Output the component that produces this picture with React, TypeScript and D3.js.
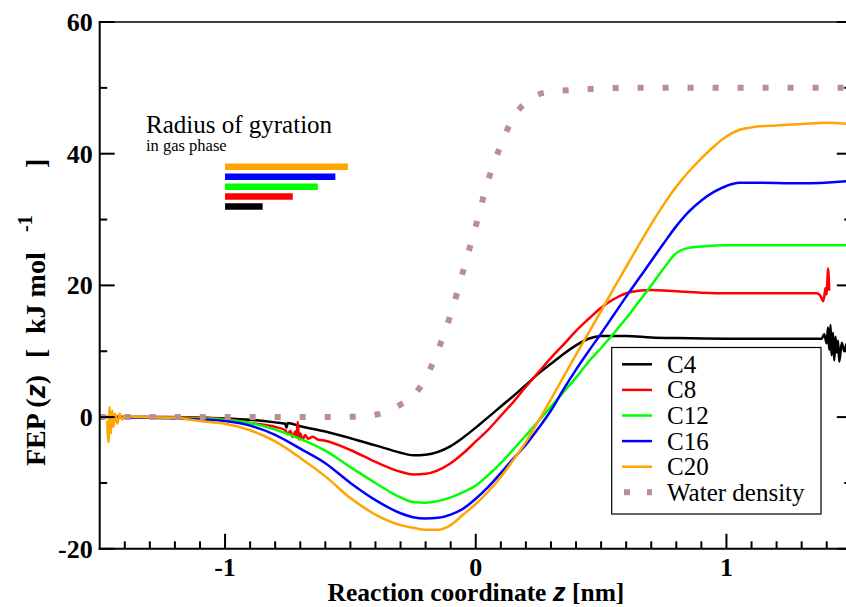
import React from "react";
import * as d3 from "d3";

const seriesNames = ["C4", "C8", "C12", "C16", "C20"];
const seriesColors = ["#000000", "#ff0000", "#00ff00", "#0000ff", "#ffa500"];
const waterColor = "#bc8f8f";

const c4: [number, number][] = [
  [-1.5, 0], [-1.3, 0], [-1.1, -0.1], [-1.0, -0.2], [-0.9, -0.4], [-0.8, -0.8], [-0.76, -1.0], [-0.755, -1.6], [-0.75, -0.9], [-0.7, -1.4],
  [-0.6, -2.2], [-0.5, -3.2], [-0.4, -4.3], [-0.3, -5.4], [-0.25, -5.8], [-0.2, -5.7],
  [-0.1, -4.4], [-0.05, -3.1], [0, -1.6], [0.05, 0.0], [0.1, 1.6], [0.15, 3.2], [0.2, 4.9],
  [0.25, 6.6], [0.3, 8.1], [0.35, 9.6], [0.4, 10.9], [0.45, 11.9], [0.5, 12.3], [0.6, 12.3],
  [0.7, 12.1], [0.8, 12.0], [1.0, 11.9], [1.2, 11.9], [1.38, 11.9], [1.39, 12.6], [1.4, 11.2],
  [1.405, 13.6], [1.41, 10.2], [1.415, 14.0], [1.42, 9.4], [1.425, 12.8], [1.43, 8.6],
  [1.435, 12.2], [1.44, 9.8], [1.445, 11.6], [1.45, 8.4], [1.46, 11.3], [1.47, 10.0], [1.48, 11.2], [1.5, 10.6],
];
const c8: [number, number][] = [
  [-1.45, 0], [-1.2, 0], [-1.0, -0.3], [-0.9, -0.9], [-0.8, -1.5], [-0.76, -2.0], [-0.75, -2.6],
  [-0.74, -2.1], [-0.73, -3.0], [-0.72, -2.2], [-0.715, -3.1], [-0.71, -0.7], [-0.705, -3.4],
  [-0.7, -2.5], [-0.69, -3.4], [-0.68, -2.7], [-0.67, -3.3], [-0.65, -3.0], [-0.63, -3.4],
  [-0.6, -3.6], [-0.5, -5.0], [-0.4, -6.8], [-0.3, -8.3], [-0.25, -8.7], [-0.2, -8.6],
  [-0.1, -7.0], [-0.05, -5.5], [0, -3.7], [0.05, -1.9], [0.1, 0.2], [0.15, 2.3], [0.2, 4.6],
  [0.25, 6.8], [0.3, 9.0], [0.35, 11.0], [0.4, 13.1], [0.45, 14.9], [0.5, 16.6], [0.55, 17.9],
  [0.6, 18.8], [0.65, 19.2], [0.7, 19.3], [0.8, 19.1], [0.9, 18.9], [1.0, 18.8], [1.2, 18.8],
  [1.36, 18.8], [1.375, 18.4], [1.385, 17.6], [1.39, 18.3], [1.395, 19.6], [1.4, 18.6],
  [1.405, 22.6], [1.41, 19.2],
];
const c12: [number, number][] = [
  [-1.45, 0], [-1.3, -0.05], [-1.1, -0.2], [-1.0, -0.4], [-0.9, -0.9], [-0.8, -1.9], [-0.7, -3.3],
  [-0.6, -5.1], [-0.5, -7.6], [-0.4, -10.0], [-0.3, -12.2], [-0.25, -12.9], [-0.2, -13.0],
  [-0.1, -12.2], [-0.05, -11.4], [0, -10.4], [0.05, -8.8], [0.1, -7.0], [0.15, -4.9],
  [0.2, -2.8], [0.25, -0.6], [0.3, 1.6], [0.35, 3.8], [0.4, 6.0], [0.45, 8.4], [0.5, 10.5],
  [0.55, 12.7], [0.6, 15.0], [0.65, 17.5], [0.7, 20.0], [0.75, 22.6], [0.8, 24.9], [0.85, 25.7],
  [0.9, 25.9], [1.0, 26.1], [1.2, 26.1], [1.5, 26.1],
];
const c16: [number, number][] = [
  [-1.45, 0], [-1.3, -0.1], [-1.1, -0.35], [-1.0, -0.6], [-0.9, -1.3], [-0.8, -2.7], [-0.7, -4.8],
  [-0.6, -7.0], [-0.5, -10.0], [-0.4, -12.6], [-0.3, -14.6], [-0.25, -15.2], [-0.2, -15.4],
  [-0.15, -15.3], [-0.1, -14.8], [-0.05, -13.9], [0, -12.4], [0.05, -10.6], [0.1, -8.5],
  [0.15, -6.3], [0.2, -4.2], [0.25, -1.7], [0.3, 1.0], [0.35, 4.2], [0.4, 7.2], [0.45, 10.0],
  [0.5, 12.7], [0.55, 15.5], [0.6, 18.3], [0.65, 21.0], [0.7, 23.7], [0.75, 26.4], [0.8, 29.0],
  [0.85, 31.2], [0.9, 32.9], [0.95, 34.2], [1.0, 35.1], [1.05, 35.6], [1.1, 35.6], [1.3, 35.5], [1.5, 35.9],
];
const c20: [number, number][] = [
  [-1.47, -0.5], [-1.465, -3.8], [-1.46, 1.5], [-1.455, -2.5], [-1.45, 1.0], [-1.445, -1.5],
  [-1.44, 0.5], [-1.43, -1.0], [-1.42, 0.5], [-1.41, -0.4], [-1.4, 0.2], [-1.35, 0], [-1.2, -0.1],
  [-1.1, -0.6], [-1.0, -1.0], [-0.9, -2.0], [-0.8, -3.7], [-0.7, -6.2], [-0.6, -9.0], [-0.5, -12.3],
  [-0.4, -14.8], [-0.3, -16.4], [-0.25, -16.8], [-0.2, -17.1], [-0.15, -17.1], [-0.1, -16.4],
  [-0.05, -14.8], [0, -13.2], [0.05, -11.3], [0.1, -9.1], [0.15, -6.5], [0.2, -3.8], [0.25, -0.6],
  [0.3, 2.7], [0.35, 6.1], [0.4, 9.5], [0.45, 12.8], [0.5, 16.1], [0.55, 19.5], [0.6, 22.8],
  [0.65, 26.1], [0.7, 29.3], [0.75, 32.3], [0.8, 35.0], [0.85, 37.3], [0.9, 39.3], [0.95, 41.1],
  [1.0, 42.6], [1.05, 43.6], [1.1, 44.0], [1.2, 44.3], [1.3, 44.5], [1.4, 44.7], [1.5, 44.5],
];
const waterDensity: [number, number][] = [
  [-1.5, 0], [-0.6, 0], [-0.45, 0.1], [-0.4, 0.35], [-0.35, 0.9], [-0.3, 1.9], [-0.25, 3.2],
  [-0.2, 5.9], [-0.15, 10.2], [-0.1, 15.6], [-0.05, 22.2], [0, 29.0], [0.05, 36.0], [0.1, 41.3],
  [0.15, 45.5], [0.2, 47.8], [0.25, 49.0], [0.3, 49.4], [0.4, 49.7], [0.5, 49.9], [0.6, 50], [1.5, 50],
];
const seriesData = [c4, c8, c12, c16, c20];

// radius of gyration in gas phase (nm), bars drawn from z = -1
const gyrationRadius = [0.15, 0.27, 0.37, 0.44, 0.49];
const gyrationLevel = [32, 33.5, 35, 36.5, 38];

const yMajorTicks = [-20, 0, 20, 40, 60];
const yMinorTicks = [-10, 10, 30, 50];
const xMajorTicks = [-1, 0, 1];
const xMinorTicks = d3.range(-14, 15).map((d) => d / 10).filter((d) => Math.abs(d - Math.round(d)) > 1e-6);

const W = 846;
const H = 607;
const serif = "Liberation Serif";
const sans = "Liberation Sans";

export default function App() {
  const x = d3.scaleLinear().domain([-1.5, 1.5]).range([99.7, 851.8]);
  const y = d3.scaleLinear().domain([-20, 60]).range([548.8, 22]);
  const line = d3
    .line<[number, number]>()
    .x((d) => x(d[0]))
    .y((d) => y(d[1]))
    .curve(d3.curveMonotoneX);

  const x0 = x(-1.5);
  const x1 = x(1.5);
  const yTop = y(60);
  const yBot = y(-20);

  const legendX = 611.7;
  const legendY = 347.5;
  const legendRowY = (i: number) => 364.3 + i * 25.6;
  const legendLabels = [...seriesNames, "Water density"];

  const serifStyle: React.CSSProperties = { fontFamily: serif };
  const boldSerif: React.CSSProperties = { fontFamily: serif, fontWeight: "bold" };
  const zStyle: React.CSSProperties = { fontFamily: sans, fontStyle: "italic", fontWeight: "bold" };

  return (
    <svg
      width={W}
      height={H}
      style={{ position: "absolute", left: 0, top: 0, background: "#fff" }}
    >
      <defs>
        <clipPath id="plotClip">
          <rect x={x0} y={yTop} width={x1 - x0} height={yBot - yTop} />
        </clipPath>
      </defs>
      <rect x={0} y={0} width={W} height={H} fill="#fff" />

      {/* curves */}
      <g clipPath="url(#plotClip)" fill="none">
        {seriesData.map((data, i) => (
          <path key={seriesNames[i]} d={line(data) || ""} stroke={seriesColors[i]} strokeWidth={2.5} strokeLinejoin="round" />
        ))}
        <path d={line(waterDensity) || ""} stroke={waterColor} strokeWidth={6} strokeDasharray="6 19" />
      </g>

      {/* radius of gyration bars */}
      {gyrationRadius.map((r, i) => (
        <line
          key={"rg" + i}
          x1={x(-1)}
          x2={x(-1 + r)}
          y1={y(gyrationLevel[i])}
          y2={y(gyrationLevel[i])}
          stroke={seriesColors[i]}
          strokeWidth={6.5}
        />
      ))}
      <text x={146} y={132.5} fontSize={25} fill="#000" style={serifStyle}>
        Radius of gyration
      </text>
      <text x={146} y={151} fontSize={16.5} fill="#000" style={serifStyle}>
        in gas phase
      </text>

      {/* frame */}
      <line x1={x0} x2={x1} y1={yTop} y2={yTop} stroke="#000" strokeWidth={1.5} />
      <line x1={x0} x2={x0} y1={yTop - 1} y2={yBot + 1} stroke="#000" strokeWidth={2} />
      <line x1={x0 - 1} x2={x1} y1={yBot} y2={yBot} stroke="#000" strokeWidth={2} />
      <line x1={x1} x2={x1} y1={yTop} y2={yBot} stroke="#000" strokeWidth={2} />

      {/* y ticks */}
      {yMajorTicks.map((t) => (
        <g key={"ym" + t}>
          <line x1={x0} x2={x0 + 15} y1={y(t)} y2={y(t)} stroke="#000" strokeWidth={2} />
          <line x1={x1 - 15} x2={x1} y1={y(t)} y2={y(t)} stroke="#000" strokeWidth={2} />
          <text x={x0 - 7} y={y(t) + 9} textAnchor="end" fontSize={26} style={boldSerif}>
            {t}
          </text>
        </g>
      ))}
      {yMinorTicks.map((t) => (
        <g key={"yn" + t}>
          <line x1={x0} x2={x0 + 7.5} y1={y(t)} y2={y(t)} stroke="#000" strokeWidth={2} />
          <line x1={x1 - 7.5} x2={x1} y1={y(t)} y2={y(t)} stroke="#000" strokeWidth={2} />
        </g>
      ))}

      {/* x ticks */}
      {xMajorTicks.map((t) => (
        <g key={"xm" + t}>
          <line x1={x(t)} x2={x(t)} y1={yBot} y2={yBot - 15} stroke="#000" strokeWidth={2} />
          <text x={x(t)} y={yBot + 27} textAnchor="middle" fontSize={26} style={boldSerif}>
            {t}
          </text>
        </g>
      ))}
      {xMinorTicks.map((t) => (
        <line key={"xn" + t} x1={x(t)} x2={x(t)} y1={yBot} y2={yBot - 7.5} stroke="#000" strokeWidth={2} />
      ))}

      {/* axis titles */}
      <text x={476} y={601} textAnchor="middle" fontSize={25.5} style={{ ...boldSerif, whiteSpace: "pre" }}>
        {"Reaction coordinate "}
        <tspan style={zStyle}>z</tspan>
        {" [nm]"}
      </text>
      <text transform="translate(45, 0) rotate(-90)" fontSize={28} style={{ ...boldSerif, whiteSpace: "pre" }}>
        <tspan x={-466}>{"FEP ("}</tspan>
        <tspan style={zStyle}>z</tspan>
        <tspan>{")"}</tspan>
        <tspan x={-358}>{"["}</tspan>
        <tspan x={-334}>{"kJ mol"}</tspan>
        <tspan x={-232} dy={-13} fontSize={20}>{"-1"}</tspan>
        <tspan x={-168} dy={13}>{"]"}</tspan>
      </text>

      {/* legend */}
      <rect x={legendX} y={legendY} width={209.3} height={166.5} fill="#fff" stroke="#000" strokeWidth={1.2} />
      {legendLabels.map((lab, i) => (
        <g key={"lg" + lab}>
          {i < 5 ? (
            <line x1={622} x2={652} y1={legendRowY(i)} y2={legendRowY(i)} stroke={seriesColors[i]} strokeWidth={2.5} />
          ) : (
            <line x1={624} x2={652} y1={legendRowY(i)} y2={legendRowY(i)} stroke={waterColor} strokeWidth={6} strokeDasharray="6 17" />
          )}
          <text x={667} y={legendRowY(i) + 8.5} fontSize={25} fill="#000" style={serifStyle}>
            {lab}
          </text>
        </g>
      ))}
    </svg>
  );
}
